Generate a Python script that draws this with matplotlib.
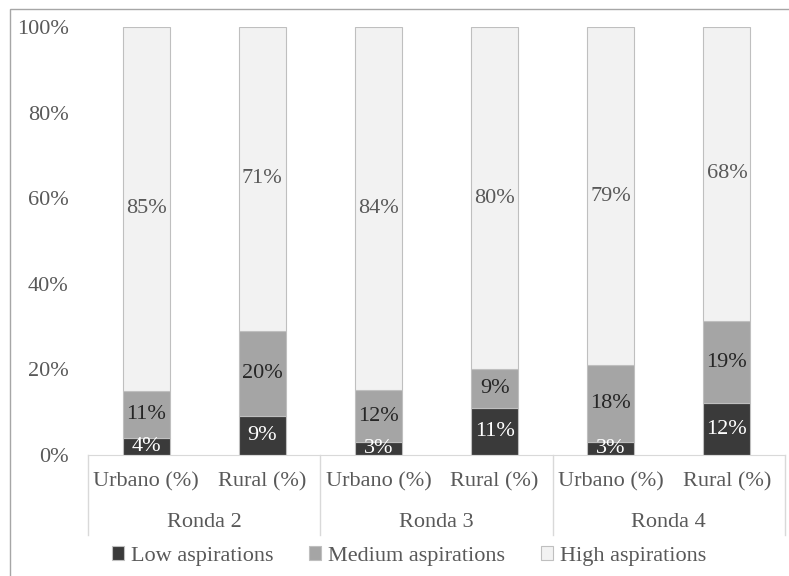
import matplotlib
matplotlib.use('Agg')
from matplotlib import pyplot as plt
from matplotlib.patches import Rectangle
from matplotlib.lines import Line2D
import numpy as np

plt.rcParams['font.family'] = ['Liberation Serif', 'DejaVu Serif']

rondas = ['Ronda 2', 'Ronda 3', 'Ronda 4']
areas = ['Urbano (%)', 'Rural (%)']
series = ['Low aspirations', 'Medium aspirations', 'High aspirations']
low = [4, 9, 3, 11, 3, 12]
medium = [11, 20, 12, 9, 18, 19]
high = [85, 71, 84, 80, 79, 68]
colors = ['#3a3a3a', '#a5a5a5', '#f2f2f2']
label_colors = ['white', '#262626', '#595959']

data = np.array([low, medium, high], dtype=float)
frac = data / data.sum(axis=0)

fig = plt.figure(figsize=(7.89, 5.76), dpi=100)
ax = fig.add_axes([88 / 789, 1 - 455 / 576, (785 - 88) / 789, (455 - 27) / 576])

x = np.arange(len(low))
bottom = np.zeros(len(low))
for i, name in enumerate(series):
    bars = ax.bar(x, frac[i], 0.405, bottom=bottom, color=colors[i],
                  edgecolor='#bfbfbf', linewidth=0.8, label=name, zorder=2)
    for j, b in enumerate(bars):
        ax.text(b.get_x() + b.get_width() / 2, bottom[j] + frac[i][j] / 2,
                '%d%%' % data[i][j], ha='center', va='center',
                color=label_colors[i], fontsize=16)
    bottom += frac[i]

ax.set_xlim(-0.5, 5.5)
ax.set_ylim(0, 1)
ax.set_yticks(np.arange(0, 1.01, 0.2))
ax.set_yticklabels(['%d%%' % v for v in range(0, 101, 20)])
ax.tick_params(axis='y', length=0, pad=14, labelsize=16, labelcolor='#595959')
ax.set_xticks([])
for s in ['top', 'right', 'left']:
    ax.spines[s].set_visible(False)
ax.spines['bottom'].set_color('#d9d9d9')

trans = ax.get_xaxis_transform()
for k in range(4):
    ax.add_line(Line2D([-0.5 + 2 * k] * 2, [0, -0.187], transform=trans,
                       color='#d9d9d9', linewidth=1, clip_on=False))
for j in x:
    ax.text(j, -0.063, areas[j % 2], transform=trans, ha='center', va='center',
            fontsize=16, color='#595959')
for k, r in enumerate(rondas):
    ax.text(2 * k + 0.5, -0.157, r, transform=trans, ha='center', va='center',
            fontsize=16, color='#595959')

fig.legend(loc='center', bbox_to_anchor=(409 / 789, 1 - 556 / 576), ncol=3,
           frameon=False, fontsize=16, handlelength=0.55, handleheight=0.55,
           handletextpad=0.3, columnspacing=1.6, labelcolor='#595959')

fig.patches.append(Rectangle((10 / 789, -0.1), 1.2, 1 - 9 / 576 + 0.1,
                             transform=fig.transFigure, fill=False,
                             edgecolor='#a6a6a6', linewidth=1))

fig.savefig('out.png', dpi=100)
